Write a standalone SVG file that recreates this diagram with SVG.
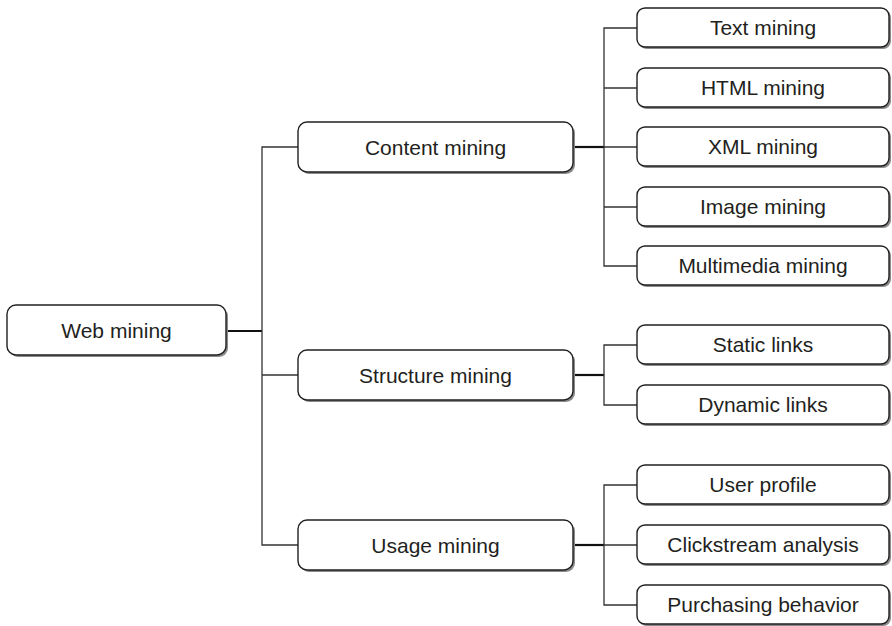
<svg xmlns="http://www.w3.org/2000/svg" width="892" height="626" viewBox="0 0 892 626">
<defs>
<style>
.box{fill:#fff;stroke:#231f20;stroke-width:1.4}
.sh{fill:#8a8a8a}
.t{font-family:"Liberation Sans",Arial,sans-serif;font-size:21px;fill:#231f20;text-anchor:middle}
.c{fill:none;stroke:#333;stroke-width:1.3}
.m{fill:none;stroke:#111;stroke-width:2.2}
</style>
</defs>
<rect width="892" height="626" fill="#fff"/>
<g id="connectors">
<path class="m" d="M226 331H262"/>
<path class="c" d="M298 147H262V545H298M262 375H298"/>
<path class="m" d="M573 147H604"/>
<path class="c" d="M637 28H604V266H637M604 88H637M604 147H637M604 207H637"/>
<path class="m" d="M573 375H604"/>
<path class="c" d="M637 345H604V405H637"/>
<path class="m" d="M573 545H604"/>
<path class="c" d="M637 485H604V605H637M604 545H637"/>
</g>
<g id="web-mining"><rect class="sh" x="9" y="307" width="219" height="50" rx="9"/><rect class="box" x="7" y="305" width="219" height="50" rx="9"/><text class="t" x="116.5" y="337.5">Web mining</text></g>
<g id="content-mining"><rect class="sh" x="300" y="124" width="275" height="50" rx="9"/><rect class="box" x="298" y="122" width="275" height="50" rx="9"/><text class="t" x="435.5" y="154.5">Content mining</text></g>
<g id="structure-mining"><rect class="sh" x="300" y="352" width="275" height="50" rx="9"/><rect class="box" x="298" y="350" width="275" height="50" rx="9"/><text class="t" x="435.5" y="382.5">Structure mining</text></g>
<g id="usage-mining"><rect class="sh" x="300" y="522" width="275" height="50" rx="9"/><rect class="box" x="298" y="520" width="275" height="50" rx="9"/><text class="t" x="435.5" y="552.5">Usage mining</text></g>
<g id="text-mining"><rect class="sh" x="639" y="10" width="252" height="39" rx="8"/><rect class="box" x="637" y="8" width="252" height="39" rx="8"/><text class="t" x="763" y="35">Text mining</text></g>
<g id="html-mining"><rect class="sh" x="639" y="70" width="252" height="39" rx="8"/><rect class="box" x="637" y="68" width="252" height="39" rx="8"/><text class="t" x="763" y="95">HTML mining</text></g>
<g id="xml-mining"><rect class="sh" x="639" y="129" width="252" height="39" rx="8"/><rect class="box" x="637" y="127" width="252" height="39" rx="8"/><text class="t" x="763" y="154">XML mining</text></g>
<g id="image-mining"><rect class="sh" x="639" y="189" width="252" height="39" rx="8"/><rect class="box" x="637" y="187" width="252" height="39" rx="8"/><text class="t" x="763" y="214">Image mining</text></g>
<g id="multimedia-mining"><rect class="sh" x="639" y="248" width="252" height="39" rx="8"/><rect class="box" x="637" y="246" width="252" height="39" rx="8"/><text class="t" x="763" y="273">Multimedia mining</text></g>
<g id="static-links"><rect class="sh" x="639" y="327" width="252" height="39" rx="8"/><rect class="box" x="637" y="325" width="252" height="39" rx="8"/><text class="t" x="763" y="352">Static links</text></g>
<g id="dynamic-links"><rect class="sh" x="639" y="387" width="252" height="39" rx="8"/><rect class="box" x="637" y="385" width="252" height="39" rx="8"/><text class="t" x="763" y="412">Dynamic links</text></g>
<g id="user-profile"><rect class="sh" x="639" y="467" width="252" height="39" rx="8"/><rect class="box" x="637" y="465" width="252" height="39" rx="8"/><text class="t" x="763" y="492">User profile</text></g>
<g id="clickstream-analysis"><rect class="sh" x="639" y="527" width="252" height="39" rx="8"/><rect class="box" x="637" y="525" width="252" height="39" rx="8"/><text class="t" x="763" y="552">Clickstream analysis</text></g>
<g id="purchasing-behavior"><rect class="sh" x="639" y="587" width="252" height="39" rx="8"/><rect class="box" x="637" y="585" width="252" height="39" rx="8"/><text class="t" x="763" y="612">Purchasing behavior</text></g>
</svg>
